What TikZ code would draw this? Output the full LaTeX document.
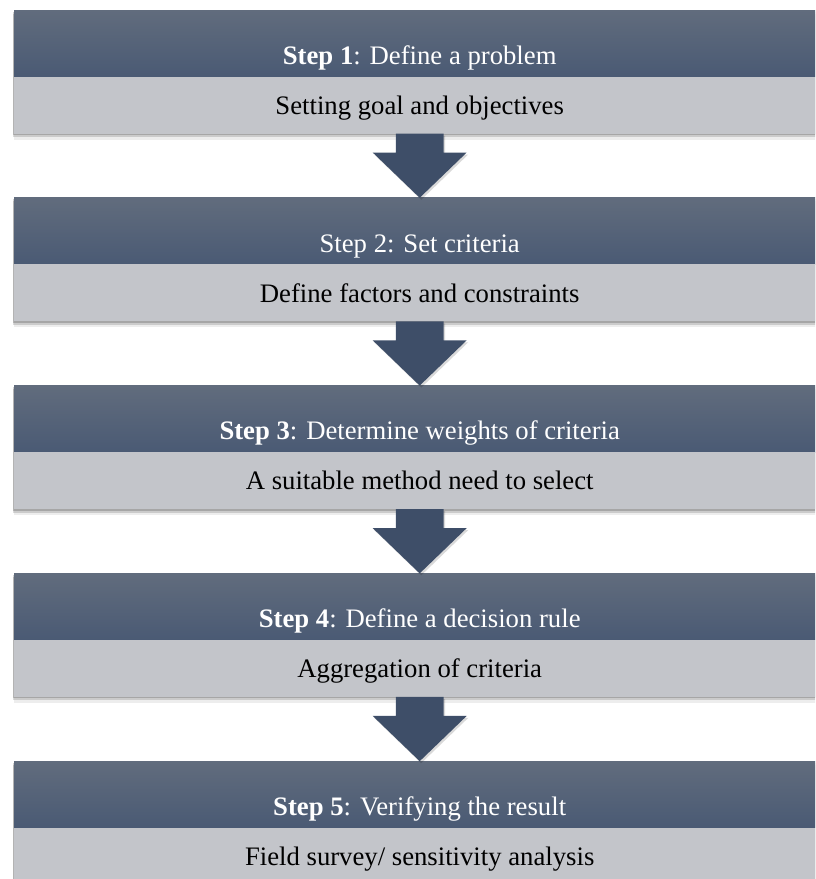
\documentclass[tikz,border=0pt]{standalone}
\usepackage{fontspec}
\setmainfont{Liberation Serif}
\usepackage{tikz}
\usetikzlibrary{calc,positioning,shadows}

\definecolor{headtop}{RGB}{97,108,125}
\definecolor{headbot}{RGB}{74,90,116}
\definecolor{bodygray}{RGB}{195,197,202}
\definecolor{arrowblue}{RGB}{62,78,104}

\tikzset{
  softshadow/.style={
    drop shadow={shadow xshift=-1.5pt,shadow yshift=-1.5pt,opacity=.18,fill=black},
    drop shadow={shadow xshift=-1pt,shadow yshift=-3.5pt,opacity=.14,fill=black},
    drop shadow={shadow xshift=0pt,shadow yshift=-6pt,opacity=.07,fill=black}},
  stephead/.style={softshadow,top color=headtop,bottom color=headbot,text=white,
    minimum width=811.4pt,inner sep=0pt,outer sep=0pt,
    text height=54.3pt,text depth=12.2pt,font=\fontsize{26.7}{30}\selectfont},
  stepbody/.style={softshadow,fill=bodygray,text=black,
    minimum width=811.4pt,inner sep=0pt,outer sep=0pt,
    text height=37.8pt,text depth=19.2pt,font=\fontsize{26.7}{30}\selectfont},
  downarrow/.style={fill=arrowblue,
    drop shadow={shadow xshift=1.5pt,shadow yshift=-2pt,opacity=.15,fill=black}}
}

\begin{document}
\begin{tikzpicture}[x=1pt,y=-1pt]
\useasboundingbox (0,0) rectangle (815,879);
\clip (0,0) rectangle (815,879);
\fill[white] (0,0) rectangle (815,879);

% steps
\node[stephead,anchor=north west] (hd1) at (14,10) {\textbf{Step 1}: Define a problem};
\node[stepbody,below=0pt of hd1] (bd1) {Setting goal and objectives};
\node[stephead,below=64.3pt of bd1] (hd2) {Step 2: Set criteria};
\node[stepbody,below=0pt of hd2] (bd2) {Define factors and constraints};
\node[stephead,below=64.3pt of bd2] (hd3) {\textbf{Step 3}: Determine weights of criteria};
\node[stepbody,below=0pt of hd3] (bd3) {A suitable method need to select};
\node[stephead,below=64.3pt of bd3] (hd4) {\textbf{Step 4}: Define a decision rule};
\node[stepbody,below=0pt of hd4] (bd4) {Aggregation of criteria};
\node[stephead,below=64.3pt of bd4] (hd5) {\textbf{Step 5}: Verifying the result};
\node[stepbody,below=0pt of hd5] (bd5) {Field survey/ sensitivity analysis};

% arrows between steps
\foreach \a/\b in {1/2,2/3,3/4,4/5}{
  \fill[downarrow] ($(bd\a.south)+(-23.8,0)$) -- ($(bd\a.south)+(23.8,0)$)
    -- ($(bd\a.south)+(23.8,19)$) -- ($(bd\a.south)+(47,19)$) -- (hd\b.north)
    -- ($(bd\a.south)+(-47,19)$) -- ($(bd\a.south)+(-23.8,19)$) -- cycle;
}
\end{tikzpicture}
\end{document}
